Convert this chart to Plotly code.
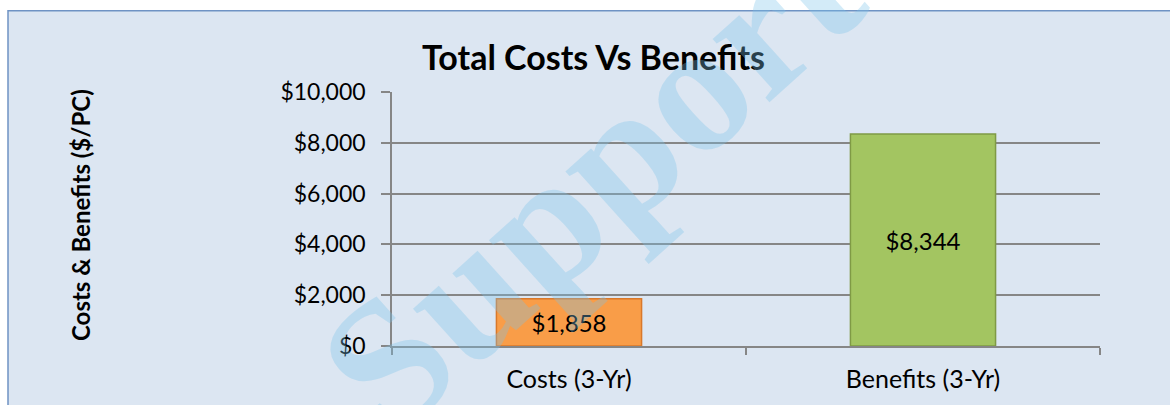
import plotly.graph_objects as go

categories = ["Costs (3-Yr)", "Benefits (3-Yr)"]
values = [1858, 8344]
labels = ["$1,858", "$8,344"]
bar_colors = ["#f99d48", "#a3c561"]
bar_edges = ["#d9782a", "#7f9a45"]
y_ticks = [0, 2000, 4000, 6000, 8000, 10000]
y_tick_labels = ["$0", "$2,000", "$4,000", "$6,000", "$8,000", "$10,000"]

W, H = 1170, 405
L, R, T, B = 392, 70, 92, 57
PW, PH = W - L - R, H - T - B

def px(x):
    return (x - L) / PW

def py(y):
    return (H - B - y) / PH

FONT = "Lato"

fig = go.Figure()
fig.add_trace(go.Bar(
    x=categories, y=values, text=labels, textposition="inside",
    insidetextanchor="middle", width=0.41,
    marker=dict(color=bar_colors, line=dict(color=bar_edges, width=1.5)),
    textfont=dict(family=FONT, size=24, color="black"),
    cliponaxis=False,
))

fig.update_layout(
    width=W, height=H,
    margin=dict(l=L, r=R, t=T, b=B),
    paper_bgcolor="white",
    plot_bgcolor="white",
    showlegend=False,
    font=dict(family=FONT, color="black"),
    xaxis=dict(
        type="category", tickson="boundaries", ticks="outside", ticklen=7,
        tickcolor="#868686", tickwidth=1.5, showline=True, linecolor="#868686",
        linewidth=1.5, showgrid=False, ticklabelstandoff=10,
        tickfont=dict(family=FONT, size=25, color="black"),
    ),
    yaxis=dict(
        range=[0, 10000], tickvals=y_ticks, ticktext=y_tick_labels,
        ticks="outside", ticklen=9, tickcolor="#868686", tickwidth=1.5,
        showline=True, linecolor="#868686", linewidth=1.5, ticklabelstandoff=11,
        showgrid=True, gridcolor="#868686", gridwidth=1.5, zeroline=False,
        tickfont=dict(family=FONT, size=23, color="black"),
    ),
)

# chart area frame
fig.add_shape(type="rect", xref="paper", yref="paper", layer="below",
              x0=px(8), x1=px(1180), y0=py(415), y1=py(10),
              fillcolor="#dce6f2", line=dict(color="#6f93c4", width=1.5))

# title
fig.add_annotation(text="<b>Total Costs Vs Benefits</b>", xref="paper", yref="paper",
                   x=px(593), y=py(56), xanchor="center", yanchor="middle",
                   showarrow=False, font=dict(family=FONT, size=34, color="black"))
# y title
fig.add_annotation(text="<b>Costs &amp; Benefits ($/PC)</b>", xref="paper", yref="paper",
                   x=px(80), y=py(216), xanchor="center", yanchor="middle",
                   showarrow=False, textangle=-90,
                   font=dict(family=FONT, size=24, color="black"))
# watermark
fig.add_annotation(text="<b>Support</b>", xref="paper", yref="paper",
                   x=px(590), y=py(180), xanchor="center", yanchor="middle",
                   showarrow=False, textangle=-42,
                   font=dict(family="Liberation Serif", size=185,
                             color="rgba(120,195,235,0.33)"))

fig.write_html("out.html", config={"displayModeBar": False},
               post_script="document.body.style.margin='0';")
